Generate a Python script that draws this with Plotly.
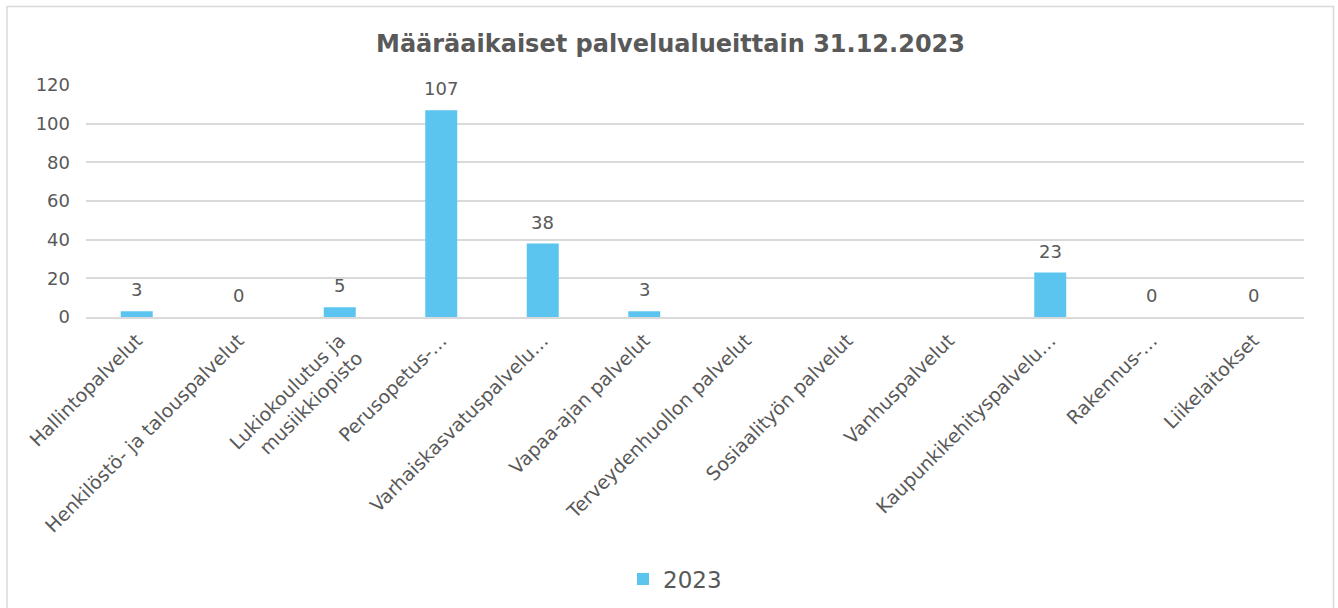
import plotly.graph_objects as go

categories = [
    "Hallintopalvelut",
    "Henkilöstö- ja talouspalvelut",
    "Lukiokoulutus ja<br>musiikkiopisto",
    "Perusopetus-…",
    "Varhaiskasvatuspalvelu…",
    "Vapaa-ajan palvelut",
    "Terveydenhuollon palvelut",
    "Sosiaalityön palvelut",
    "Vanhuspalvelut",
    "Kaupunkikehityspalvelu…",
    "Rakennus-…",
    "Liikelaitokset",
]
values_2023 = [3, 0, 5, 107, 38, 3, None, None, None, 23, 0, 0]
series_name = "2023"
title_text = "Määräaikaiset palvelualueittain 31.12.2023"
y_ticks = [0, 20, 40, 60, 80, 100, 120]

BAR_COLOR = "#5BC5F0"
TEXT_COLOR = "#595959"
GRID_COLOR = "#D9D9D9"
FONT = "DejaVu Sans, Verdana, sans-serif"

W, H = 1338, 608
ML, MR, MT, MB = 86, 34, 85, 291
plot_w = W - ML - MR
plot_h = H - MT - MB

fig = go.Figure()
fig.add_trace(go.Bar(
    x=categories,
    y=[v if v is not None else 0 for v in values_2023],
    name=series_name,
    marker=dict(color=BAR_COLOR, line=dict(width=0)),
    hoverinfo="x+y",
))

annotations = []
for c, v in zip(categories, values_2023):
    if v is None:
        continue
    annotations.append(dict(
        x=c, y=v, xref="x", yref="y", text=str(v), showarrow=False,
        yanchor="bottom", yshift=9,
        font=dict(family=FONT, size=18, color=TEXT_COLOR),
    ))

annotations.append(dict(
    x=(670 - ML) / plot_w, y=(MT + plot_h - 44) / plot_h,
    xref="paper", yref="paper", text="<b>" + title_text + "</b>",
    showarrow=False, xanchor="center", yanchor="middle",
    font=dict(family=FONT, size=24, color=TEXT_COLOR),
))

fig.update_layout(
    width=W, height=H,
    margin=dict(l=ML, r=MR, t=MT, b=MB, autoexpand=False),
    paper_bgcolor="white", plot_bgcolor="white",
    bargap=0.685,
    showlegend=True,
    legend=dict(
        orientation="h", x=(675 - ML) / plot_w, xanchor="center",
        y=(MT + plot_h - 579) / plot_h, yanchor="middle",
        font=dict(family=FONT, size=23, color=TEXT_COLOR),
        itemsizing="constant",
    ),
    font=dict(family=FONT, color=TEXT_COLOR),
    annotations=annotations,
    shapes=[dict(
        type="rect", xref="paper", yref="paper",
        x0=(7 - ML) / plot_w, x1=(1333.5 - ML) / plot_w,
        y0=(MT + plot_h - 6.5) / plot_h, y1=(MT + plot_h - 640) / plot_h,
        line=dict(color=GRID_COLOR, width=1.5), fillcolor="rgba(0,0,0,0)",
        layer="below",
    )],
)

fig.update_yaxes(
    range=[0, 120], tickvals=y_ticks, showgrid=True, gridcolor=GRID_COLOR,
    gridwidth=1.5, zeroline=False, showline=False, ticks="",
    tickfont=dict(family=FONT, size=18, color=TEXT_COLOR),
    ticklabelstandoff=15, fixedrange=True,
)
fig.update_xaxes(
    tickangle=-45, showgrid=False, ticks="", showline=True,
    linecolor=GRID_COLOR, linewidth=2,
    tickfont=dict(family=FONT, size=19, color=TEXT_COLOR),
    ticklabelstandoff=3, fixedrange=True,
)

fig.write_html(
    "out.html",
    config={"displayModeBar": False},
    post_script="document.body.style.margin='0';document.body.style.overflow='hidden';",
)
